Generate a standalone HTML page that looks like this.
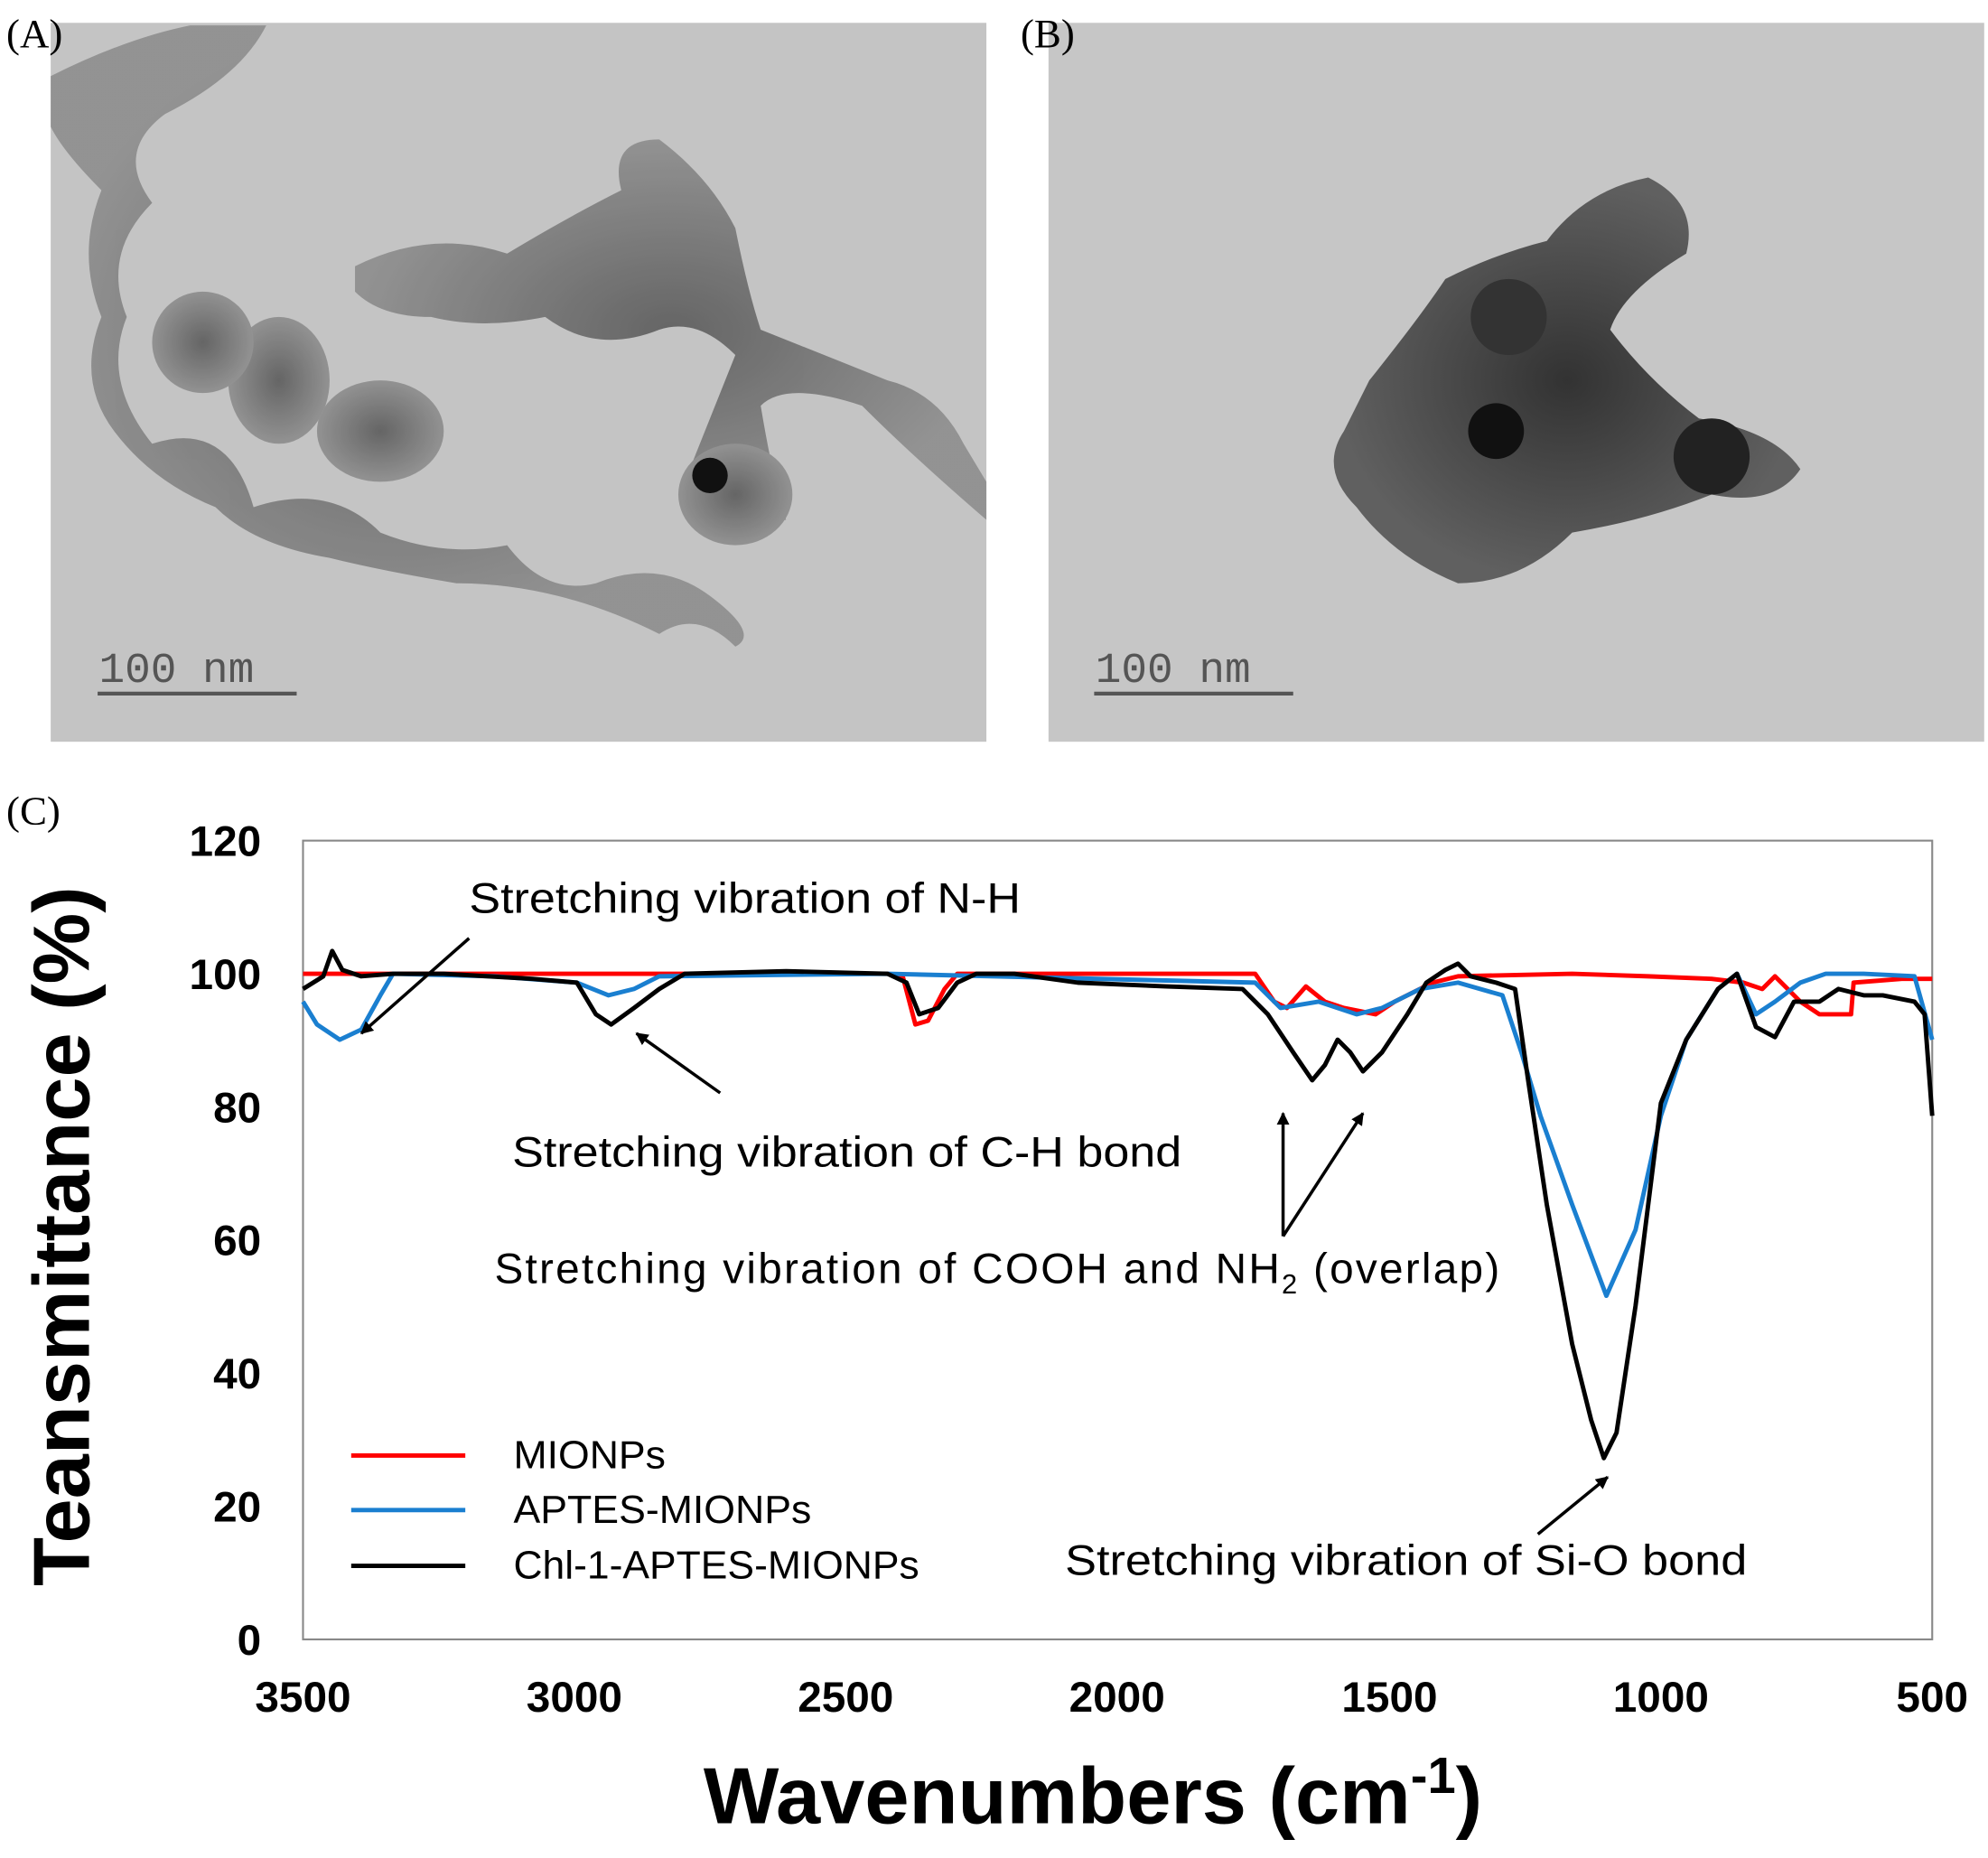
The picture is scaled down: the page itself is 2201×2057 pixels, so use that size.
<!DOCTYPE html>
<html><head><meta charset="utf-8"><style>html,body{margin:0;padding:0;background:#fff}svg{display:block}</style></head>
<body>
<svg width="2201" height="2057" viewBox="0 0 1568 1465.4" xmlns="http://www.w3.org/2000/svg" font-family="Liberation Sans, sans-serif">
<defs>
<marker id="ar" markerWidth="10" markerHeight="10" refX="9" refY="5" orient="auto" markerUnits="userSpaceOnUse"><path d="M0,0 L10,5 L0,10 z" fill="#000"/></marker>
<radialGradient id="pa" cx="50%" cy="50%" r="50%"><stop offset="0" stop-color="#555"/><stop offset="1" stop-color="#8a8a8a"/></radialGradient>
<radialGradient id="pb" cx="50%" cy="50%" r="50%"><stop offset="0" stop-color="#222"/><stop offset="1" stop-color="#555"/></radialGradient>
</defs>
<rect width="1568" height="1465.4" fill="#fff"/>
<rect x="40" y="18" width="738" height="567" fill="#c4c4c4"/>
<g fill="url(#pa)" opacity="0.85">
<path d="M40,60 Q100,30 150,20 L210,20 Q190,60 130,90 Q90,120 120,160 Q80,200 100,250 Q80,300 120,350 Q180,330 200,400 Q260,380 300,420 Q350,440 400,430 Q430,470 470,460 Q520,440 560,470 Q600,500 580,510 Q550,480 520,500 Q480,480 440,470 Q400,460 360,460 Q300,450 260,440 Q200,430 170,400 Q120,380 90,340 Q60,300 80,250 Q60,200 80,150 Q50,120 40,100 Z" />
<path d="M280,210 Q340,180 400,200 Q450,170 490,150 Q480,110 520,110 Q560,140 580,180 Q590,230 600,260 Q650,280 700,300 Q740,310 760,350 L778,380 L778,410 Q720,360 680,320 Q620,300 600,320 Q610,380 620,410 Q560,420 540,380 Q560,330 580,280 Q550,250 520,260 Q470,280 430,250 Q380,260 340,250 Q300,250 280,230 Z"/>
<ellipse cx="300" cy="340" rx="50" ry="40"/>
<ellipse cx="580" cy="390" rx="45" ry="40"/>
<ellipse cx="220" cy="300" rx="40" ry="50"/>
<ellipse cx="160" cy="270" rx="40" ry="40"/>
</g>
<circle cx="560" cy="375" r="14" fill="#111"/>
<line x1="77" y1="547" x2="234" y2="547" stroke="#555" stroke-width="3"/>
<text x="78" y="538" font-family="Liberation Mono, monospace" font-size="34" fill="#555">100 nm</text>
<rect x="827" y="18" width="738" height="567" fill="#c6c6c6"/>
<g fill="url(#pb)" opacity="0.9">
<path d="M1080,300 Q1120,250 1140,220 Q1180,200 1220,190 Q1250,150 1300,140 Q1340,160 1330,200 Q1280,230 1270,260 Q1300,300 1340,330 Q1400,340 1420,370 Q1400,400 1350,390 Q1300,410 1240,420 Q1200,460 1150,460 Q1100,440 1070,400 Q1040,370 1060,340 Z"/>
</g>
<circle cx="1180" cy="340" r="22" fill="#111"/>
<circle cx="1350" cy="360" r="30" fill="#222"/>
<circle cx="1190" cy="250" r="30" fill="#333"/>
<line x1="863" y1="547" x2="1020" y2="547" stroke="#555" stroke-width="3"/>
<text x="864" y="538" font-family="Liberation Mono, monospace" font-size="34" fill="#555">100 nm</text>
<g font-family="Liberation Serif, serif" font-size="32" fill="#000">
<text x="5" y="37">(A)</text><text x="805" y="37">(B)</text><text x="5" y="650">(C)</text>
</g>
<rect x="239" y="663" width="1285" height="630" fill="none" stroke="#888" stroke-width="1.5"/>
<g font-size="34" font-weight="bold" text-anchor="end">
<text x="206" y="675">120</text><text x="206" y="780">100</text><text x="206" y="885">80</text><text x="206" y="990">60</text><text x="206" y="1095">40</text><text x="206" y="1200">20</text><text x="206" y="1305">0</text>
</g>
<g font-size="34" font-weight="bold" text-anchor="middle">
<text x="239" y="1350">3500</text><text x="453" y="1350">3000</text><text x="667" y="1350">2500</text><text x="881" y="1350">2000</text><text x="1096" y="1350">1500</text><text x="1310" y="1350">1000</text><text x="1524" y="1350">500</text>
</g>
<text transform="translate(70,975) rotate(-90)" font-size="63" font-weight="bold" text-anchor="middle">Teansmittance (%)</text>
<text x="862" y="1438" font-size="63" font-weight="bold" text-anchor="middle">Wavenumbers (cm<tspan font-size="40" dy="-24">-1</tspan><tspan dy="24">)</tspan></text>
<g fill="none" stroke-width="3.5" stroke-linejoin="round">
<path stroke="#f00" d="M239,768 L700,768 L712,770 L722,808 L732,805 L745,780 L755,768 L990,768 L1005,790 L1015,795 L1030,778 L1045,790 L1060,795 L1085,800 L1100,790 L1130,775 L1150,770 L1240,768 L1300,770 L1350,772 L1375,775 L1390,780 L1400,770 L1410,780 L1420,790 L1435,800 L1460,800 L1462,775 L1500,772 L1524,772"/>
<path stroke="#1a7fd0" d="M239,790 L250,808 L268,820 L285,812 L300,785 L310,768 L390,770 L455,775 L480,785 L500,780 L520,770 L700,768 L990,775 L1010,795 L1040,790 L1070,800 L1090,795 L1120,780 L1150,775 L1185,785 L1200,830 L1215,880 L1240,950 L1267,1022 L1290,970 L1310,880 L1330,820 L1355,780 L1370,768 L1385,800 L1400,790 L1420,775 L1440,768 L1470,768 L1510,770 L1524,820"/>
<path stroke="#000" d="M239,780 L255,770 L262,750 L270,765 L285,770 L310,768 L350,768 L420,772 L455,775 L470,800 L482,808 L500,795 L520,780 L540,768 L620,766 L700,768 L715,775 L725,800 L740,795 L755,775 L770,768 L800,768 L850,775 L920,778 L980,780 L1000,800 L1020,830 L1035,852 L1045,840 L1055,820 L1065,830 L1075,845 L1090,830 L1110,800 L1125,775 L1140,765 L1150,760 L1160,770 L1180,775 L1195,780 L1205,850 L1220,950 L1240,1060 L1255,1120 L1265,1150 L1275,1130 L1290,1030 L1310,870 L1330,820 L1355,780 L1370,768 L1385,810 L1400,818 L1415,790 L1435,790 L1450,780 L1470,785 L1485,785 L1510,790 L1518,800 L1524,880"/>
</g>
<g font-size="34">
<text x="370" y="720" textLength="435" lengthAdjust="spacingAndGlyphs">Stretching vibration of N-H</text>
<text x="404" y="920" textLength="528" lengthAdjust="spacingAndGlyphs">Stretching vibration of C-H bond</text>
<text x="390" y="1012" letter-spacing="1.6">Stretching vibration of COOH and NH<tspan font-size="22" dy="8">2</tspan><tspan dy="-8"> (overlap)</tspan></text>
<text x="840" y="1242" textLength="538" lengthAdjust="spacingAndGlyphs">Stretching vibration of Si-O bond</text>
</g>
<g stroke="#000" stroke-width="2.5" marker-end="url(#ar)">
<line x1="370" y1="740" x2="285" y2="815"/>
<line x1="568" y1="862" x2="502" y2="815"/>
<line x1="1012" y1="975" x2="1012" y2="878"/>
<line x1="1012" y1="975" x2="1075" y2="878"/>
<line x1="1213" y1="1210" x2="1268" y2="1165"/>
</g>
<g stroke-width="3.5">
<line x1="277" y1="1148" x2="367" y2="1148" stroke="#f00"/>
<line x1="277" y1="1191" x2="367" y2="1191" stroke="#1a7fd0"/>
<line x1="277" y1="1235" x2="367" y2="1235" stroke="#000"/>
</g>
<g font-size="31">
<text x="405" y="1158" textLength="120" lengthAdjust="spacingAndGlyphs">MIONPs</text>
<text x="405" y="1201" textLength="235" lengthAdjust="spacingAndGlyphs">APTES-MIONPs</text>
<text x="405" y="1245" textLength="320" lengthAdjust="spacingAndGlyphs">Chl-1-APTES-MIONPs</text>
</g>
</svg>
</body></html>
